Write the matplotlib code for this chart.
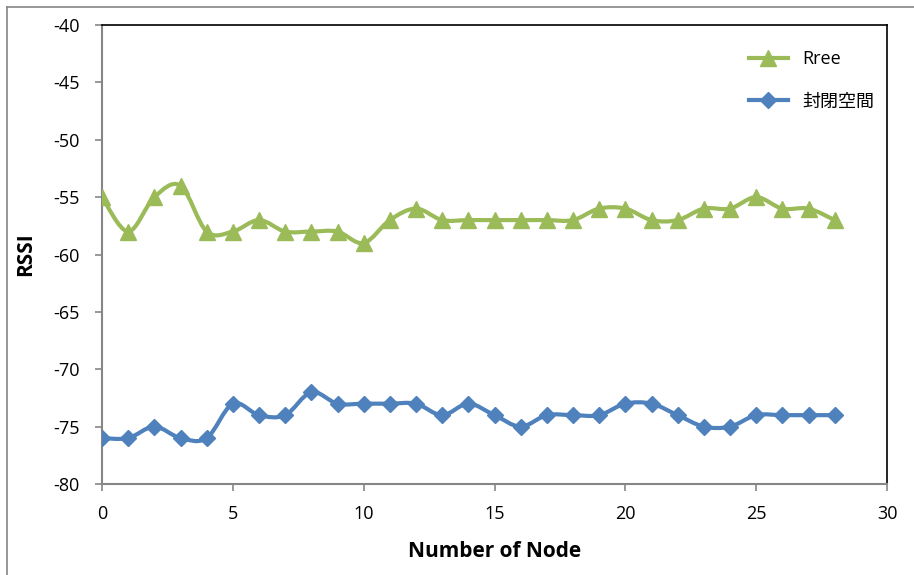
import numpy as np
import matplotlib
matplotlib.use("Agg")
import matplotlib.pyplot as plt
from matplotlib.path import Path
from matplotlib.patches import PathPatch
from matplotlib.lines import Line2D

plt.rcParams['font.family'] = ['Open Sans', 'Noto Sans CJK JP', 'DejaVu Sans']
plt.rcParams['axes.unicode_minus'] = False

# Node index and measured RSSI for the two environments
nodes = list(range(29))
rssi_free = [-55, -58, -55, -54, -58, -58, -57, -58, -58, -58, -59, -57, -56, -57, -57,
             -57, -57, -57, -57, -56, -56, -57, -57, -56, -56, -55, -56, -56, -57]
rssi_closed = [-76, -76, -75, -76, -76, -73, -74, -74, -72, -73, -73, -73, -73, -74, -73,
               -74, -75, -74, -74, -74, -73, -73, -74, -75, -75, -74, -74, -74, -74]
series_names = ["Rree", "封閉空間"]

x_ticks = [0, 5, 10, 15, 20, 25, 30]
y_ticks = [-80, -75, -70, -65, -60, -55, -50, -45, -40]

GREEN = "#9BBB59"
BLUE = "#4F81BD"


def smooth_path(xs, ys, t=1 / 6):
    """Cubic Bezier path through all points (Catmull-Rom style smoothing)."""
    pts = np.column_stack([xs, ys]).astype(float)
    n = len(pts)
    verts = [pts[0]]
    codes = [Path.MOVETO]
    for i in range(n - 1):
        p0 = pts[i - 1] if i > 0 else pts[i]
        p1 = pts[i]
        p2 = pts[i + 1]
        p3 = pts[i + 2] if i + 2 < n else pts[i + 1]
        c1 = p1 + (p2 - p0) * t
        c2 = p2 - (p3 - p1) * t
        verts += [c1, c2, p2]
        codes += [Path.CURVE4] * 3
    return Path(verts, codes)


fig = plt.figure(figsize=(9.14, 5.75), dpi=100)
ax = fig.add_axes([102 / 914, 1 - 484 / 575, 785 / 914, 459 / 575])

for ys, color, marker, msize, name in [
    (rssi_free, GREEN, "^", 11, series_names[0]),
    (rssi_closed, BLUE, "D", 8, series_names[1]),
]:
    ax.add_patch(PathPatch(smooth_path(nodes, ys), facecolor="none",
                           edgecolor=color, lw=3, capstyle="round",
                           joinstyle="round", zorder=2))
    ax.plot(nodes, ys, linestyle="none", marker=marker, markersize=msize,
            color=color, markeredgecolor=color, zorder=3)
    ax.plot([], [], color=color, lw=3, marker=marker, markersize=msize,
            label=name)

ax.set_xlim(0, 30)
ax.set_ylim(-80, -40)
ax.set_xticks(x_ticks)
ax.set_yticks(y_ticks)

for side in ("top", "right"):
    ax.spines[side].set_color("black")
    ax.spines[side].set_linewidth(1.2)
for side in ("left", "bottom"):
    ax.spines[side].set_color("#868686")
    ax.spines[side].set_linewidth(1.5)

ax.tick_params(axis="both", direction="out", length=5, width=1.2,
               color="#868686", labelsize=13, labelcolor="black")
ax.tick_params(axis="x", pad=10)
ax.tick_params(axis="y", pad=11)

ax.set_xlabel("Number of Node", fontsize=15, fontweight="bold", labelpad=13)
ax.set_ylabel("RSSI", fontsize=15, fontweight="bold", labelpad=12)

leg = ax.legend(loc="upper right", bbox_to_anchor=(1.005, 0.98), frameon=False,
                fontsize=13, handlelength=2.2, labelspacing=1.35,
                handletextpad=0.8)

# Outer chart frame (left and top edges)
fig.add_artist(Line2D([7 / 914, 7 / 914], [0, 1 - 7 / 575], color="#868686",
                      lw=1.2, transform=fig.transFigure))
fig.add_artist(Line2D([7 / 914, 1], [1 - 7 / 575, 1 - 7 / 575], color="#868686",
                      lw=1.2, transform=fig.transFigure))

fig.savefig("out.png", dpi=100)
